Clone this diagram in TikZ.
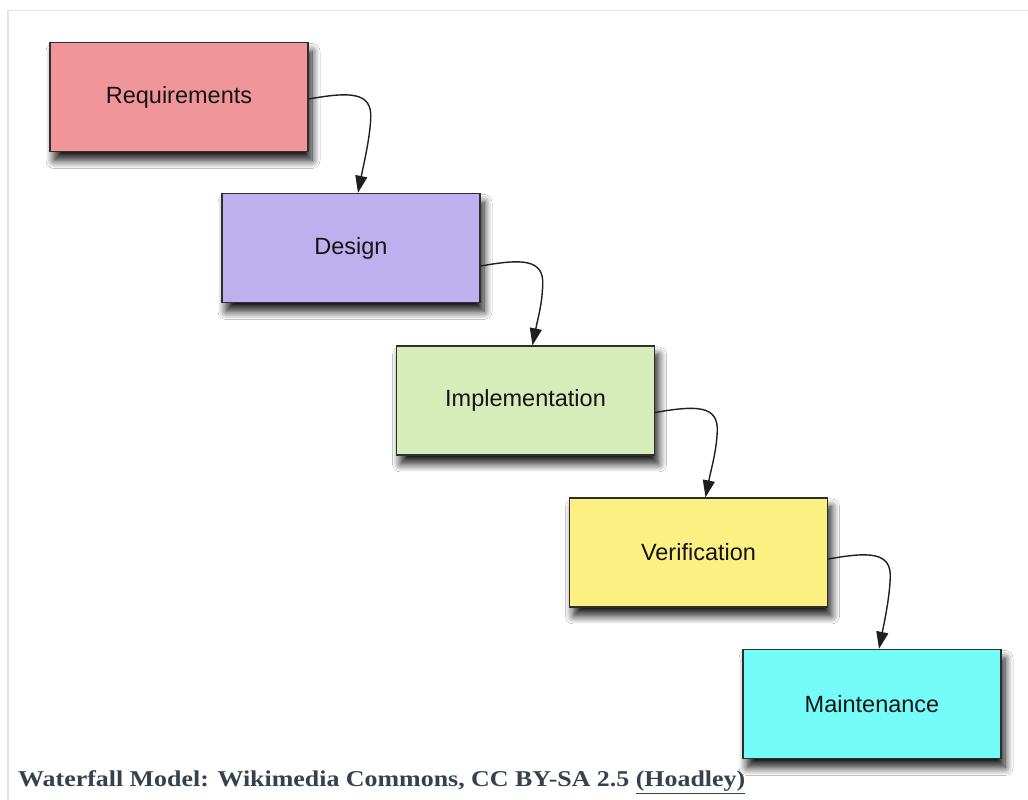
\documentclass[tikz,border=0pt]{standalone}
\usepackage{fontspec}
\setmainfont{Liberation Sans}
\newfontfamily\captfont{Liberation Serif}
\usetikzlibrary{arrows.meta,calc,shadows.blur}
\definecolor{reqc}{RGB}{240,150,155}
\definecolor{desc}{RGB}{189,176,238}
\definecolor{impc}{RGB}{214,237,186}
\definecolor{verc}{RGB}{252,240,130}
\definecolor{mntc}{RGB}{115,252,248}
\definecolor{captc}{RGB}{54,65,79}
\definecolor{framec}{RGB}{228,228,228}
\begin{document}
\begin{tikzpicture}[x=1pt,y=1pt,
  phase/.style={draw=black!82, line width=1.4pt, minimum width=258pt, minimum height=109pt,
    inner sep=0pt, font=\fontsize{23.5}{26}\selectfont, text=black!92,
    blur shadow={shadow xshift=4pt, shadow yshift=-9pt, shadow blur radius=8pt, shadow blur steps=10, shadow opacity=90}},
  flow/.style={line width=1.4pt, draw=black!88, -{Triangle[length=17pt,width=12pt]}}]
\useasboundingbox (0,0) rectangle (1028,800);
\fill[white] (0,0) rectangle (1028,800);
\draw[framec, line width=1.5pt] (8,0) -- (8,789.5) -- (1028,789.5);
\node[phase, fill=reqc] (req) at (179,703) {Requirements};
\node[phase, fill=desc] (des) at (351,552) {Design};
\node[phase, fill=impc] (imp) at (525.5,399.5) {Implementation};
\node[phase, fill=verc] (ver) at (698.5,247.5) {Verification};
\node[phase, fill=mntc] (mnt) at (872,96) {Maintenance};
\foreach \a/\b/\s in {req/des/-2, des/imp/-18, imp/ver/-12, ver/mnt/-6.5}{
  \coordinate (S) at ([yshift=\s pt]\a.east);
  \coordinate (E) at ([xshift=7pt]\b.north);
  \draw[flow] (S) .. controls ($(S)+(40,7)$) and ($(S)+(64,8)$) .. ($(S)+(62,-20)$)
     .. controls ($(S)+(61,-40)$) and ($(E)+(6,30)$) .. (E);
}
\node[anchor=base west, inner sep=0pt, text=captc] (cap) at (18,13)
  {\resizebox{727pt}{\height}{\captfont\bfseries\fontsize{22.6}{26}\selectfont Waterfall Model: Wikimedia Commons, CC BY-SA 2.5 \underline{(Hoadley)}}};
\end{tikzpicture}
\end{document}
